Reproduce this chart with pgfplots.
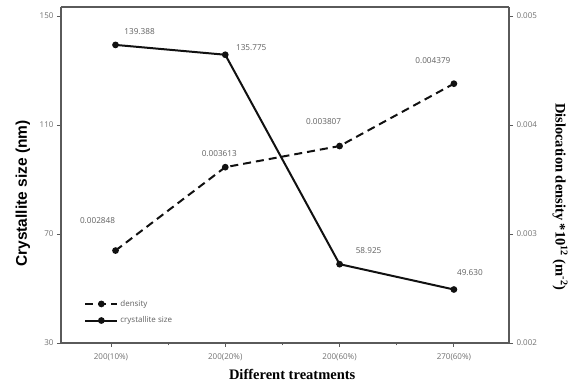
\documentclass[border=0pt]{standalone}
\usepackage{fontspec}
\setmainfont{Liberation Serif}
\setsansfont{Open Sans}
\newfontfamily\arialfont{Liberation Sans}
\usepackage{pgfplots}
\pgfplotsset{compat=1.18}
\definecolor{tickgray}{HTML}{707070}
\definecolor{labgray}{HTML}{606060}
\definecolor{axgray}{HTML}{5A5A5A}
\definecolor{linecol}{HTML}{111111}
\begin{document}
\begin{tikzpicture}
\pgfplotsset{
  common/.style={
    scale only axis, width=448pt, height=336pt,
    at={(0pt,0pt)}, anchor=south west,
    xmin=-0.437, xmax=3.482,
    axis line style={axgray, line width=1.1pt},
    tick style={axgray, line width=0.8pt},
    tick align=outside,
    major tick length=4pt,
    minor tick length=2.5pt,
    tick label style={font=\sffamily\fontsize{8}{9}\selectfont, text=tickgray},
    /pgf/number format/assume math mode=true,
  },
  mystyle/.style={linecol, line width=2pt, mark=*, mark size=2.3pt, mark options={solid, fill=linecol}},
}
% left axis: crystallite size
\begin{axis}[common,
  ymin=30, ymax=153.3,
  ytick={30,70,110,150},
  axis y line*=left, axis x line*=bottom,
  xtick={0,1,2,3},
  xticklabels={200(10\%),200(20\%),200(60\%),270(60\%)},
  xticklabel style={yshift=-3pt},
  minor xtick={0.5,1.5,2.5},
  xlabel={Different treatments},
  xlabel style={font=\bfseries\fontsize{14.5}{16}\selectfont, at={(axis description cs:0.516,-0.095)}, anchor=center},
  ylabel={Crystallite size (nm)},
  ylabel style={font=\arialfont\bfseries\fontsize{15.5}{17}\selectfont, at={(axis description cs:-0.085,0.445)}, anchor=center},
]
\addplot[mystyle] coordinates {(0.04,139.388) (1,135.775) (2,58.925) (3,49.630)};
\node[font=\sffamily\fontsize{8.2}{9}\selectfont, text=labgray] at (axis cs:0.04,139.388) [xshift=24pt, yshift=13pt] {139.388};
\node[font=\sffamily\fontsize{8.2}{9}\selectfont, text=labgray] at (axis cs:1,135.775) [xshift=26pt, yshift=7pt] {135.775};
\node[font=\sffamily\fontsize{8.2}{9}\selectfont, text=labgray] at (axis cs:2,58.925) [xshift=29pt, yshift=14pt] {58.925};
\node[font=\sffamily\fontsize{8.2}{9}\selectfont, text=labgray] at (axis cs:3,49.630) [xshift=16pt, yshift=17pt] {49.630};
\end{axis}
% right axis: dislocation density
\begin{axis}[common,
  ymin=0.002, ymax=0.0050826,
  ytick={0.002,0.003,0.004,0.005},
  axis y line*=right, axis x line*=top,
  xtick=\empty,
  scaled y ticks=false,
  yticklabel style={/pgf/number format/.cd, fixed, precision=3, fixed zerofill},
  ylabel={Dislocation density *10\textsuperscript{12} (m\textsuperscript{-2})},
  ylabel style={font=\bfseries\fontsize{14.5}{16}\selectfont, at={(axis description cs:1.114,0.435)}, anchor=center, rotate=180},
  legend style={at={(axis description cs:0.045,0.14)}, anchor=north west, draw=none, fill=none,
    font=\sffamily\fontsize{8}{9}\selectfont, text=labgray, row sep=5pt},
  legend cell align=left,
  legend image code/.code={\draw[#1, mark repeat=2, mark phase=2] plot coordinates {(0pt,0pt) (16pt,0pt) (32pt,0pt)};},
]
\addplot[mystyle, dash pattern=on 8pt off 5pt] coordinates {(0.04,0.002848) (1,0.003613) (2,0.003807) (3,0.004379)};
\addlegendentry{density}
\addlegendimage{linecol, line width=2pt, mark=*, mark size=2.3pt, mark options={solid, fill=linecol}}
\addlegendentry{crystallite size}
\node[font=\sffamily\fontsize{8.2}{9}\selectfont, text=labgray] at (axis cs:0.04,0.002848) [xshift=-18pt, yshift=30pt] {0.002848};
\node[font=\sffamily\fontsize{8.2}{9}\selectfont, text=labgray] at (axis cs:1,0.003613) [xshift=-6pt, yshift=14pt] {0.003613};
\node[font=\sffamily\fontsize{8.2}{9}\selectfont, text=labgray] at (axis cs:2,0.003807) [xshift=-16pt, yshift=24pt] {0.003807};
\node[font=\sffamily\fontsize{8.2}{9}\selectfont, text=labgray] at (axis cs:3,0.004379) [xshift=-21pt, yshift=23pt] {0.004379};
\end{axis}
\path[use as bounding box] (-61pt,-44pt) rectangle (510pt,343pt);
\end{tikzpicture}
\end{document}
